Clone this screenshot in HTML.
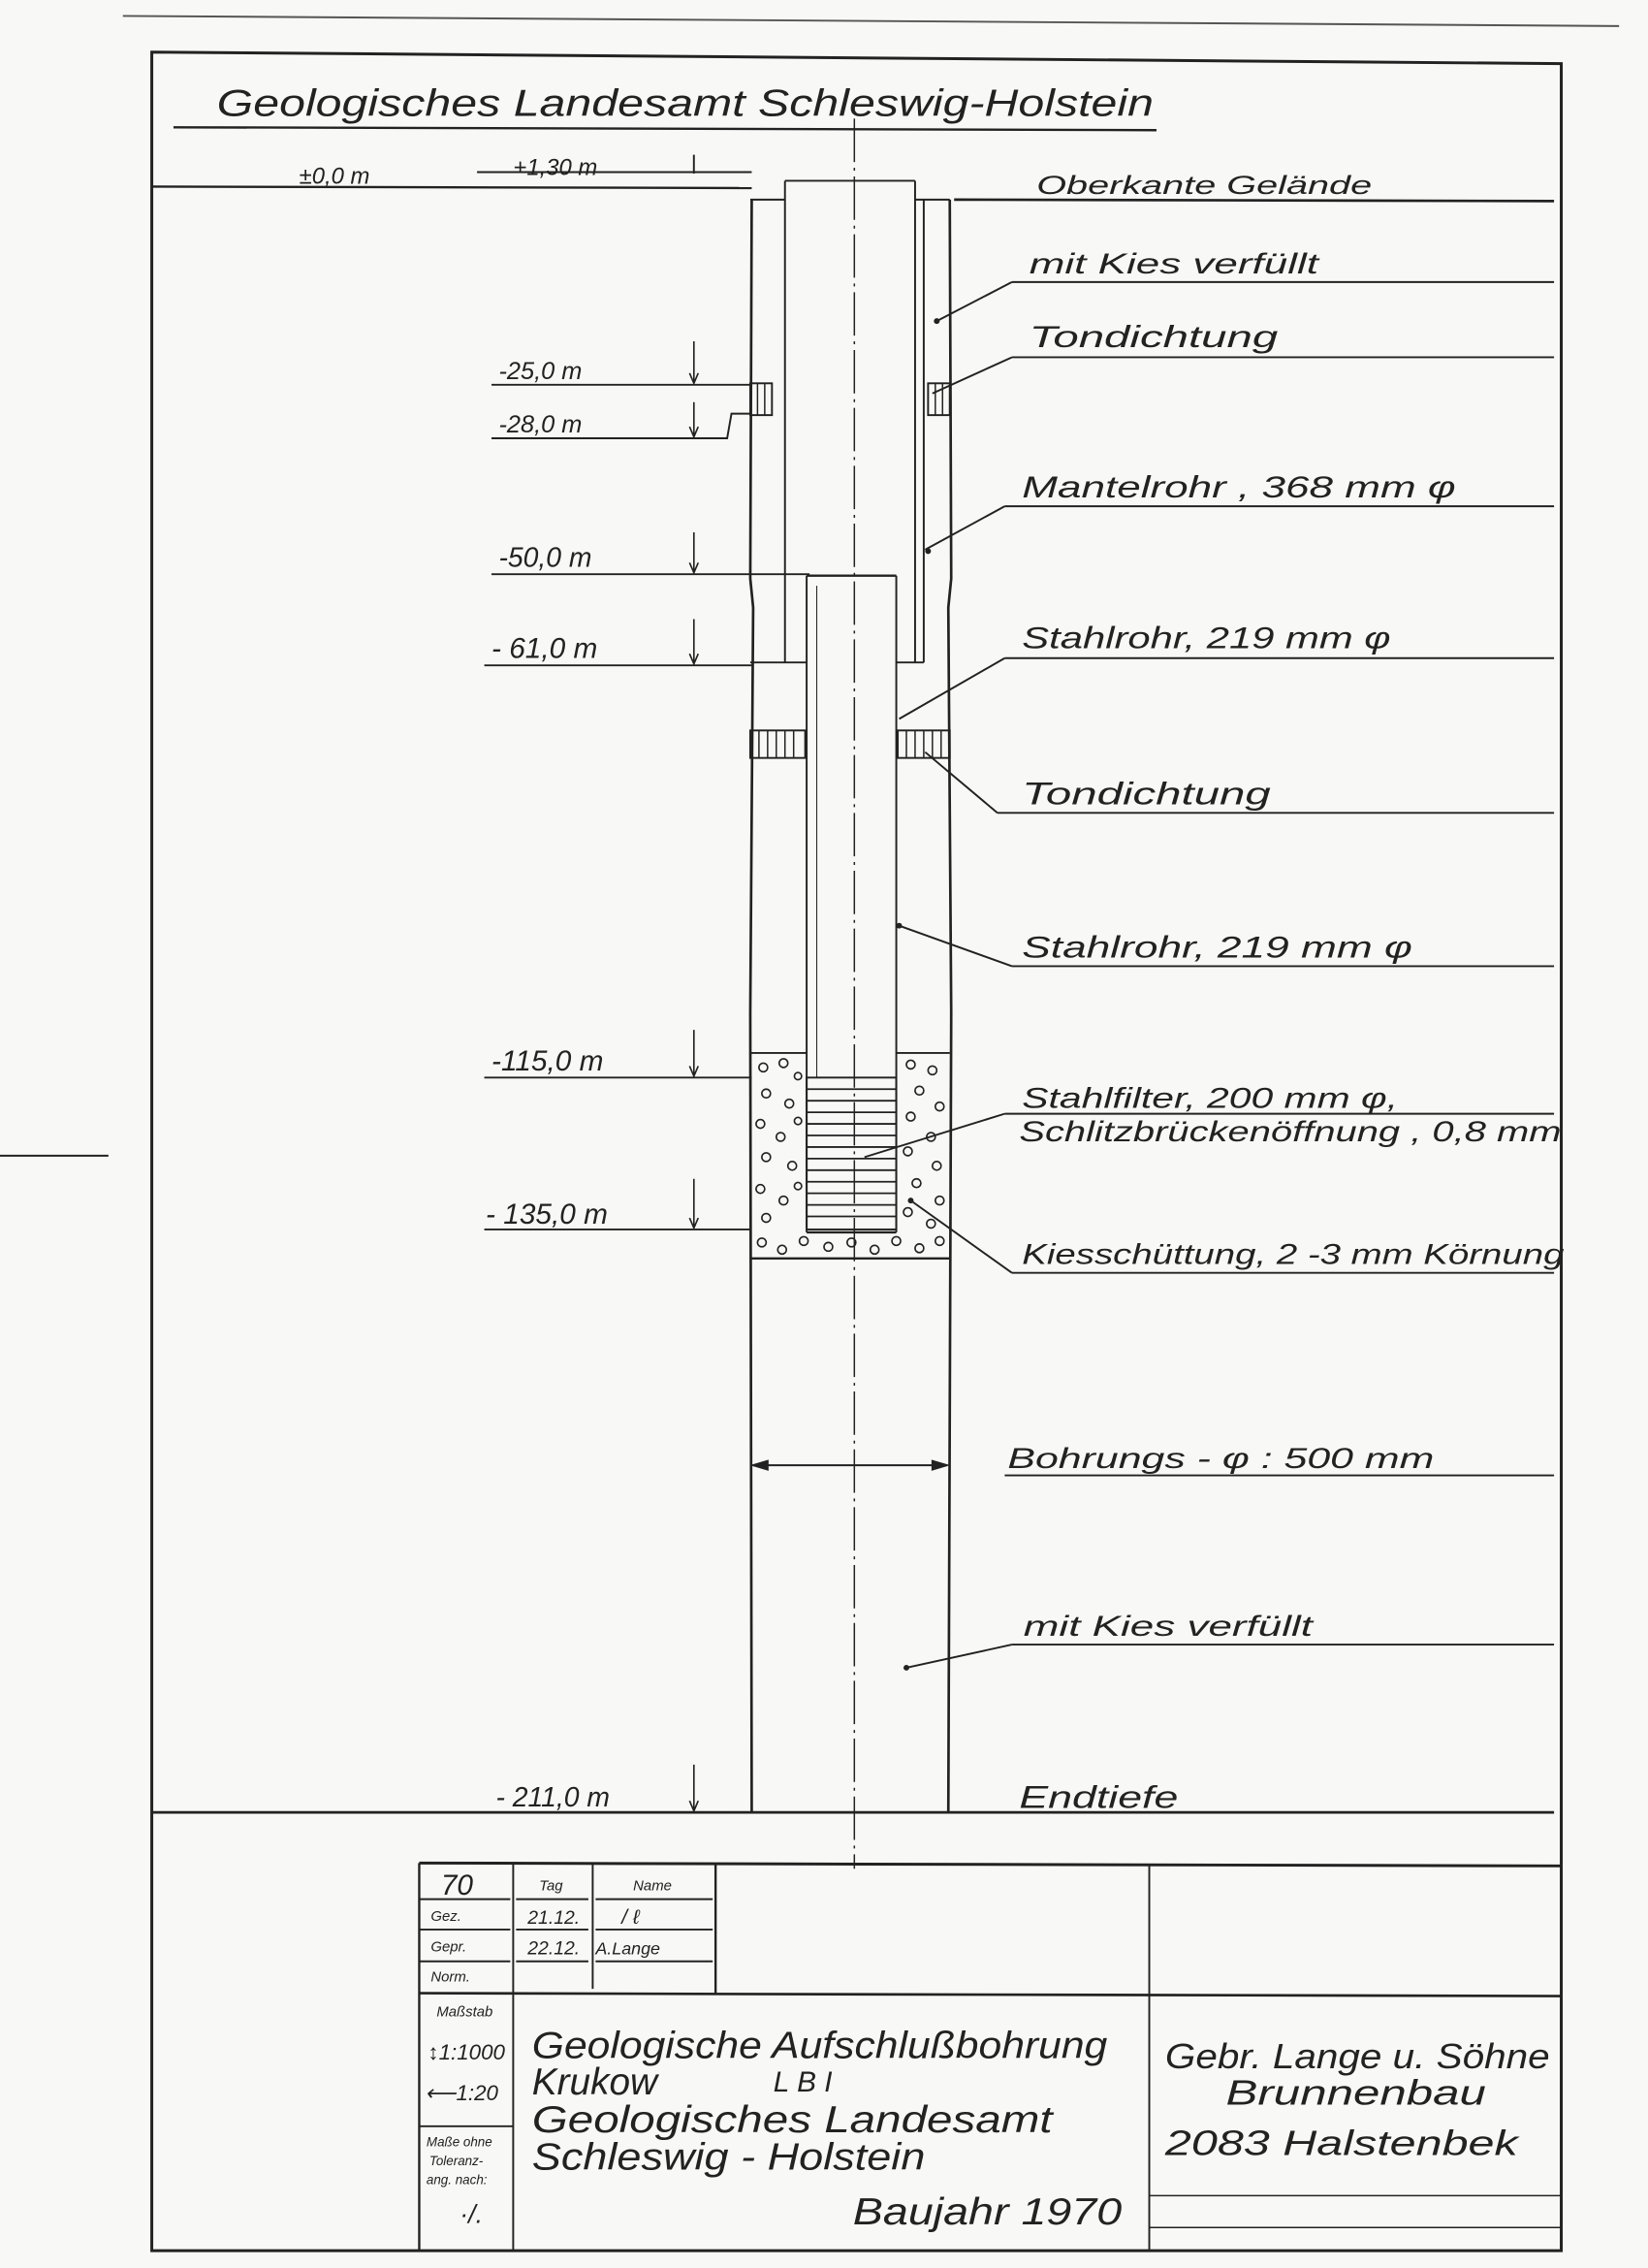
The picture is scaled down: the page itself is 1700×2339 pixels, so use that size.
<!DOCTYPE html>
<html><head><meta charset="utf-8"><style>
html,body{margin:0;padding:0;background:#f7f7f5;}
svg{display:block;}
text{font-family:"Liberation Sans",sans-serif;font-style:italic;fill:#222;}
</style></head><body>
<svg width="1700" height="2339" viewBox="0 0 1140 1568" preserveAspectRatio="none" xmlns="http://www.w3.org/2000/svg">
<rect width="1140" height="1568" fill="#f8f8f6"/>
<g stroke="#222" fill="none" stroke-width="1.3">
<!-- page edge -->
<line x1="85" y1="11" x2="1120" y2="18" stroke="#555"/>
<!-- frame -->
<path d="M105 36 L1080 44 L1080 1556 L105 1556 Z" stroke-width="2"/>
<line x1="0" y1="799" x2="75" y2="799"/>
<!-- title underline -->
<line x1="120" y1="88" x2="800" y2="90" stroke-width="1.6"/>
<!-- top dims -->
<line x1="330" y1="119" x2="520" y2="119"/>
<line x1="480" y1="107" x2="480" y2="120"/>
<line x1="105" y1="129" x2="520" y2="130" stroke-width="1.6"/>
<line x1="660" y1="138" x2="1075" y2="139" stroke-width="1.8"/>
<!-- center line -->
<line x1="591" y1="82" x2="591" y2="1292" stroke-dasharray="30,4,2,4" stroke-width="1"/>
<!-- borehole walls -->
<path d="M520 138 L519 400 L521 420 L519 700 L520 1253" stroke-width="1.8"/>
<path d="M657 138 L658 400 L656 420 L658 700 L656 1253" stroke-width="1.8"/>
<line x1="519" y1="138" x2="543" y2="138"/>
<line x1="633" y1="138" x2="657" y2="138"/>
<!-- Mantelrohr -->
<line x1="543" y1="125" x2="633" y2="125"/>
<line x1="543" y1="125" x2="543" y2="458"/>
<line x1="633" y1="125" x2="633" y2="458"/>
<line x1="639" y1="138" x2="639" y2="458"/>
<line x1="519" y1="458" x2="558" y2="458"/>
<line x1="620" y1="458" x2="639" y2="458"/>
<!-- Stahlrohr -->
<line x1="558" y1="398" x2="620" y2="398" stroke-width="1.6"/>
<line x1="558" y1="398" x2="558" y2="852"/>
<line x1="620" y1="398" x2="620" y2="852"/>
<line x1="565" y1="405" x2="565" y2="745" stroke-width="0.7"/>
<!-- Tondichtung upper -->
<rect x="519" y="265" width="15" height="22"/>
<rect x="642" y="265" width="15" height="22"/>
<g stroke-width="1"><line x1="524" y1="265" x2="524" y2="287"/><line x1="529" y1="265" x2="529" y2="287"/><line x1="647" y1="265" x2="647" y2="287"/><line x1="652" y1="265" x2="652" y2="287"/></g>
<!-- Tondichtung lower -->
<rect x="519" y="505" width="38" height="19"/>
<rect x="621" y="505" width="36" height="19"/>
<g stroke-width="1">
<path d="M525 505v19M531 505v19M537 505v19M543 505v19M549 505v19M627 505v19M633 505v19M639 505v19M645 505v19M651 505v19"/>
</g>
<!-- gravel zone -->
<line x1="519" y1="728" x2="558" y2="728"/>
<line x1="620" y1="728" x2="657" y2="728"/>
<line x1="519" y1="870" x2="657" y2="870" stroke-width="1.6"/>
<rect x="558" y="745" width="62" height="105"/>
<g stroke-width="1.2">
<path d="M558 753h62M558 761h62M558 769h62M558 777h62M558 785h62M558 793h62M558 801h62M558 809h62M558 817h62M558 825h62M558 833h62M558 841h62"/>
</g>
<line x1="558" y1="852" x2="620" y2="852" stroke-width="1.6"/>
<g stroke-width="1.1">
<circle cx="528" cy="738" r="3"/><circle cx="542" cy="735" r="3"/><circle cx="552" cy="744" r="2.5"/><circle cx="530" cy="756" r="3"/><circle cx="546" cy="763" r="3"/><circle cx="526" cy="777" r="3"/><circle cx="540" cy="786" r="3"/><circle cx="552" cy="775" r="2.5"/><circle cx="530" cy="800" r="3"/><circle cx="548" cy="806" r="3"/><circle cx="526" cy="822" r="3"/><circle cx="542" cy="830" r="3"/><circle cx="552" cy="820" r="2.5"/><circle cx="530" cy="842" r="3"/><circle cx="527" cy="859" r="3"/><circle cx="541" cy="864" r="3"/><circle cx="556" cy="858" r="3"/><circle cx="573" cy="862" r="3"/><circle cx="589" cy="859" r="3"/><circle cx="605" cy="864" r="3"/><circle cx="620" cy="858" r="3"/><circle cx="636" cy="863" r="3"/><circle cx="650" cy="858" r="3"/>
<circle cx="630" cy="736" r="3"/><circle cx="645" cy="740" r="3"/><circle cx="636" cy="754" r="3"/><circle cx="650" cy="765" r="3"/><circle cx="630" cy="772" r="3"/><circle cx="644" cy="786" r="3"/><circle cx="628" cy="796" r="3"/><circle cx="648" cy="806" r="3"/><circle cx="634" cy="818" r="3"/><circle cx="650" cy="830" r="3"/><circle cx="628" cy="838" r="3"/><circle cx="644" cy="846" r="3"/>
</g>
<!-- bottom ground line -->
<line x1="105" y1="1253" x2="1075" y2="1253" stroke-width="1.8"/>
<!-- depth lines -->
<line x1="340" y1="266" x2="519" y2="266"/>
<path d="M340 303 L503 303 L506 286 L519 286"/>
<line x1="340" y1="397" x2="560" y2="397"/>
<line x1="335" y1="460" x2="520" y2="460"/>
<line x1="335" y1="745" x2="520" y2="745"/>
<line x1="335" y1="850" x2="520" y2="850"/>
<line x1="335" y1="1253" x2="500" y2="1253"/>
<g stroke-width="1.1">
<path d="M480 236v29M477 258l3 7 3-7"/>
<path d="M480 278v24M477 295l3 7 3-7"/>
<path d="M480 368v28M477 389l3 7 3-7"/>
<path d="M480 428v31M477 452l3 7 3-7"/>
<path d="M480 712v32M477 737l3 7 3-7"/>
<path d="M480 815v34M477 842l3 7 3-7"/>
<path d="M480 1220v32M477 1245l3 7 3-7"/>
</g>
<!-- right label lines & leaders -->
<line x1="700" y1="195" x2="1075" y2="195"/><line x1="700" y1="195" x2="648" y2="222"/>
<line x1="700" y1="247" x2="1075" y2="247"/><line x1="700" y1="247" x2="645" y2="272"/>
<line x1="695" y1="350" x2="1075" y2="350"/><line x1="695" y1="350" x2="640" y2="380"/>
<line x1="695" y1="455" x2="1075" y2="455"/><line x1="695" y1="455" x2="622" y2="497"/>
<line x1="690" y1="562" x2="1075" y2="562"/><line x1="690" y1="562" x2="640" y2="520"/>
<line x1="700" y1="668" x2="1075" y2="668"/><line x1="700" y1="668" x2="622" y2="640"/>
<line x1="695" y1="770" x2="1075" y2="770"/><line x1="695" y1="770" x2="598" y2="800"/>
<line x1="700" y1="880" x2="1075" y2="880"/><line x1="700" y1="880" x2="630" y2="830"/>
<line x1="695" y1="1020" x2="1075" y2="1020"/>
<line x1="700" y1="1137" x2="1075" y2="1137"/><line x1="700" y1="1137" x2="627" y2="1153"/>
<!-- Bohrung dim -->
<line x1="521" y1="1013" x2="655" y2="1013"/>
<path d="M521 1013l10-3v6z M655 1013l-10-3v6z" fill="#222"/>
<!-- title block -->
<line x1="290" y1="1288" x2="1080" y2="1290" stroke-width="2"/>
<line x1="290" y1="1288" x2="290" y2="1556" stroke-width="1.6"/>
<line x1="355" y1="1288" x2="355" y2="1556"/>
<line x1="410" y1="1288" x2="410" y2="1375"/>
<line x1="495" y1="1288" x2="495" y2="1378" stroke-width="1.6"/>
<line x1="795" y1="1290" x2="795" y2="1556"/>
<line x1="290" y1="1378" x2="1080" y2="1380" stroke-width="1.8"/>
<path d="M290 1313h63M357 1313h50M412 1313h81M290 1334h63M357 1334h50M412 1334h81M290 1356h63M357 1356h50M412 1356h81"/>
<line x1="290" y1="1470" x2="355" y2="1470"/>
<line x1="795" y1="1518" x2="1080" y2="1518" stroke-width="1"/>
<line x1="795" y1="1540" x2="1080" y2="1540" stroke-width="1"/>
</g>
<circle cx="648" cy="222" r="2" fill="#222"/><circle cx="642" cy="381" r="2" fill="#222"/><circle cx="622" cy="640" r="2" fill="#222"/><circle cx="630" cy="830" r="2" fill="#222"/><circle cx="627" cy="1153" r="2" fill="#222"/>
<!-- texts -->
<text x="150" y="80" font-size="26" textLength="648" lengthAdjust="spacingAndGlyphs">Geologisches Landesamt  Schleswig-Holstein</text>
<text x="207" y="127" font-size="16">±0,0 m</text>
<text x="355" y="121" font-size="16">+1,30 m</text>
<text x="717" y="134" font-size="18" textLength="232" lengthAdjust="spacingAndGlyphs">Oberkante Gelände</text>
<text x="712" y="189" font-size="20" textLength="200" lengthAdjust="spacingAndGlyphs">mit  Kies verfüllt</text>
<text x="712" y="240" font-size="21" textLength="172" lengthAdjust="spacingAndGlyphs">Tondichtung</text>
<text x="345" y="262" font-size="17">-25,0 m</text>
<text x="345" y="299" font-size="17">-28,0 m</text>
<text x="707" y="344" font-size="21" textLength="300" lengthAdjust="spacingAndGlyphs">Mantelrohr , 368 mm φ</text>
<text x="345" y="392" font-size="19">-50,0 m</text>
<text x="340" y="455" font-size="20">- 61,0 m</text>
<text x="707" y="448" font-size="21" textLength="255" lengthAdjust="spacingAndGlyphs">Stahlrohr, 219 mm φ</text>
<text x="707" y="556" font-size="22" textLength="172" lengthAdjust="spacingAndGlyphs">Tondichtung</text>
<text x="707" y="662" font-size="21" textLength="270" lengthAdjust="spacingAndGlyphs">Stahlrohr, 219 mm φ</text>
<text x="340" y="740" font-size="20">-115,0 m</text>
<text x="707" y="766" font-size="20" textLength="260" lengthAdjust="spacingAndGlyphs">Stahlfilter, 200 mm φ,</text>
<text x="705" y="789" font-size="20" textLength="375" lengthAdjust="spacingAndGlyphs">Schlitzbrückenöffnung , 0,8 mm</text>
<text x="336" y="846" font-size="20">- 135,0 m</text>
<text x="707" y="874" font-size="20" textLength="375" lengthAdjust="spacingAndGlyphs">Kiesschüttung, 2 -3 mm Körnung</text>
<text x="697" y="1015" font-size="20" textLength="295" lengthAdjust="spacingAndGlyphs">Bohrungs - φ : 500 mm</text>
<text x="708" y="1131" font-size="20" textLength="200" lengthAdjust="spacingAndGlyphs">mit Kies verfüllt</text>
<text x="343" y="1249" font-size="19">- 211,0 m</text>
<text x="705" y="1250" font-size="22" textLength="110" lengthAdjust="spacingAndGlyphs">Endtiefe</text>
<!-- title block texts -->
<text x="305" y="1310" font-size="20">70</text>
<text x="373" y="1307" font-size="10">Tag</text>
<text x="438" y="1307" font-size="10">Name</text>
<text x="298" y="1328" font-size="10">Gez.</text>
<text x="365" y="1330" font-size="13">21.12.</text>
<text x="430" y="1330" font-size="14">/ &#8467;</text>
<text x="298" y="1349" font-size="10">Gepr.</text>
<text x="365" y="1351" font-size="13">22.12.</text>
<text x="412" y="1351" font-size="12">A.Lange</text>
<text x="298" y="1370" font-size="10">Norm.</text>
<text x="302" y="1394" font-size="10">Maßstab</text>
<text x="296" y="1424" font-size="15">↕1:1000</text>
<text x="294" y="1452" font-size="15">⟵1:20</text>
<text x="295" y="1484" font-size="9">Maße ohne</text>
<text x="297" y="1497" font-size="9">Toleranz-</text>
<text x="295" y="1510" font-size="9">ang. nach:</text>
<text x="318" y="1537" font-size="18">·/.</text>
<text x="368" y="1423" font-size="26" textLength="398" lengthAdjust="spacingAndGlyphs">Geologische Aufschlußbohrung</text>
<text x="368" y="1448" font-size="26">Krukow</text>
<text x="535" y="1446" font-size="20">L B I</text>
<text x="368" y="1474" font-size="26" textLength="360" lengthAdjust="spacingAndGlyphs">Geologisches Landesamt</text>
<text x="368" y="1500" font-size="26" textLength="272" lengthAdjust="spacingAndGlyphs">Schleswig - Holstein</text>
<text x="590" y="1538" font-size="26" textLength="186" lengthAdjust="spacingAndGlyphs">Baujahr 1970</text>
<text x="806" y="1430" font-size="24" textLength="266" lengthAdjust="spacingAndGlyphs">Gebr. Lange u. Söhne</text>
<text x="848" y="1455" font-size="24" textLength="180" lengthAdjust="spacingAndGlyphs">Brunnenbau</text>
<text x="806" y="1490" font-size="24" textLength="244" lengthAdjust="spacingAndGlyphs">2083 Halstenbek</text>
</svg>
</body></html>
